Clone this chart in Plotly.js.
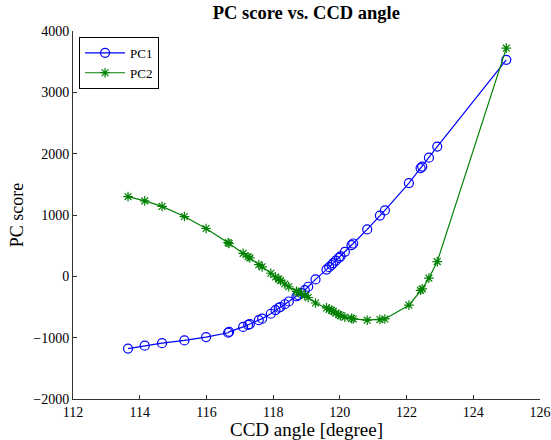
<!DOCTYPE html>
<html>
<head>
<meta charset="utf-8">
<script src="https://cdn.plot.ly/plotly-3.0.1.min.js"></script>
<style>html,body{margin:0;padding:0;background:#fff;}</style>
</head>
<body>
<div id="chart" style="width:551px;height:440px;"></div>
<script>
const angle = [113.65,114.15,114.67,115.34,115.99,116.65,116.68,117.10,117.25,117.30,117.57,117.67,117.93,118.07,118.17,118.22,118.35,118.47,118.70,118.75,118.85,118.95,119.05,119.27,119.60,119.68,119.75,119.80,119.88,119.97,120.02,120.15,120.35,120.40,120.82,121.20,121.35,122.07,122.42,122.47,122.67,122.92,124.99];
const pc1 = [-1178,-1130,-1090,-1045,-990,-920,-905,-825,-790,-780,-715,-690,-610,-550,-512,-500,-455,-410,-325,-305,-275,-225,-170,-50,110,150,185,215,255,300,326,400,510,535,765,990,1075,1520,1765,1790,1935,2115,3530];
const pc2 = [1300,1230,1140,975,780,550,535,375,320,300,190,155,50,-10,-45,-70,-125,-170,-245,-260,-280,-310,-345,-435,-515,-535,-555,-570,-600,-625,-640,-665,-685,-695,-715,-705,-695,-470,-228,-205,-30,240,3720];
const seriesNames = ["PC1","PC2"];
const xTicks = [112,114,116,118,120,122,124,126];
const yTicks = [-2000,-1000,0,1000,2000,3000,4000];

const font = "Liberation Serif, Times New Roman, serif";
const traces = [
  {x: angle, y: pc1, name: seriesNames[0], type: "scatter", mode: "lines+markers",
   line: {color: "#0000ff", width: 1.2},
   marker: {symbol: "circle-open", size: 9, color: "#0000ff", line: {color: "#0000ff", width: 1.2}}},
  {x: angle, y: pc2, name: seriesNames[1], type: "scatter", mode: "lines+markers",
   line: {color: "#008000", width: 1.2},
   marker: {symbol: "asterisk-open", size: 8, color: "#008000", line: {color: "#008000", width: 1.2}}}
];
const axisCommon = {
  showgrid: false, zeroline: false, showline: true, linecolor: "#333", linewidth: 1,
  ticks: "inside", ticklen: 4, tickcolor: "#333", tickwidth: 1,
  tickfont: {family: font, size: 14, color: "#000"}, mirror: false
};
const layout = {
  width: 551, height: 440,
  margin: {l: 73, r: 11, t: 31, b: 41},
  paper_bgcolor: "#fff", plot_bgcolor: "#fff",
  font: {family: font, color: "#000"},
  title: {text: "<b>PC score vs. CCD angle</b>", font: {family: font, size: 18.5, color: "#000"},
          x: 0.556, xanchor: "center", y: 0.972, yanchor: "middle"},
  xaxis: Object.assign({}, axisCommon, {range: [112, 126], tickvals: xTicks, ticktext: xTicks.map(String),
    title: {text: "CCD angle [degree]", font: {family: font, size: 19}, standoff: 1}}),
  yaxis: Object.assign({}, axisCommon, {range: [-2000, 4000], tickvals: yTicks,
    ticktext: yTicks.map(v => v < 0 ? "\u2212" + Math.abs(v) : String(v)),
    title: {text: "PC score", font: {family: font, size: 18}, standoff: 4}}),
  showlegend: true,
  legend: {x: 0.013, y: 0.984, xanchor: "left", yanchor: "top", bgcolor: "#fff",
           bordercolor: "#000", borderwidth: 1, font: {family: font, size: 13}, itemwidth: 40,
           tracegroupgap: 0}
};
Plotly.newPlot("chart", traces, layout, {displayModeBar: false, staticPlot: true});
</script>
</body>
</html>
